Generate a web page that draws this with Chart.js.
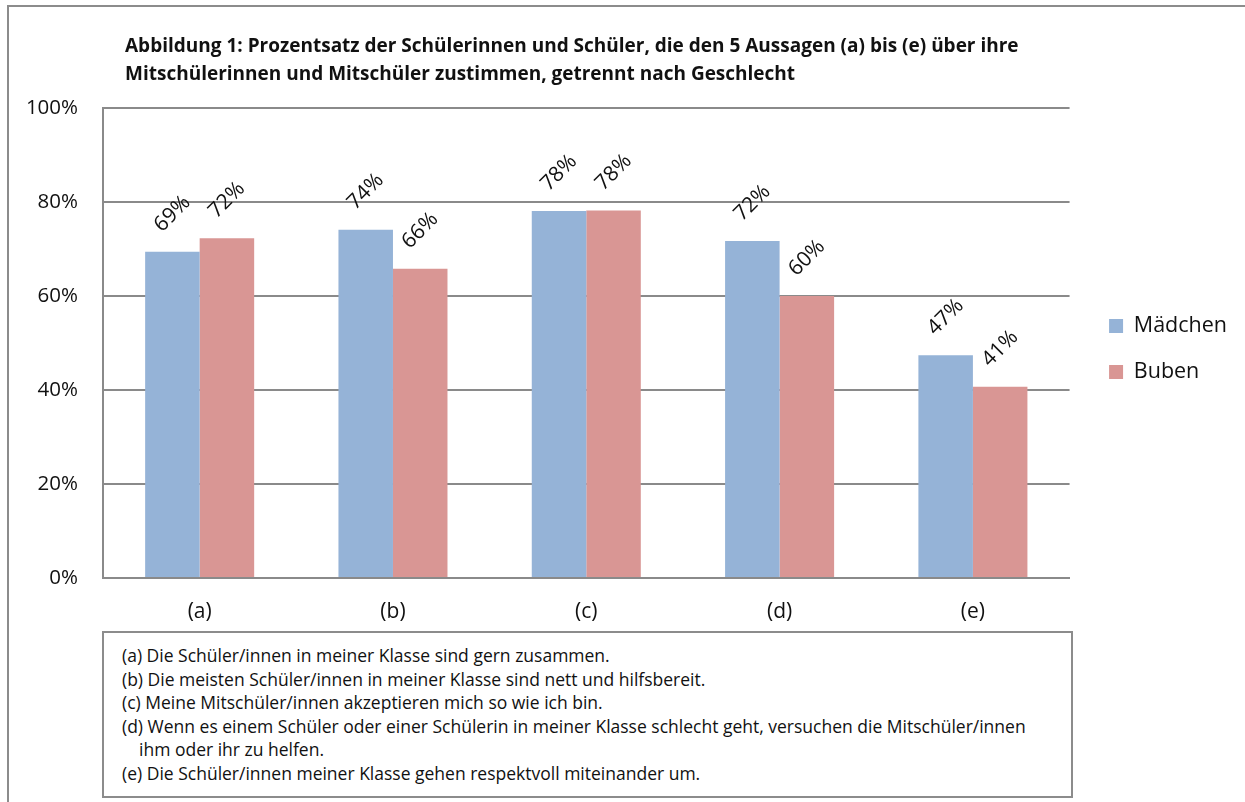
<!DOCTYPE html>
<html>
<head>
<meta charset="utf-8">
<script src="https://cdn.jsdelivr.net/npm/chart.js@4.4.1/dist/chart.umd.min.js"></script>
<style>
  html, body { margin: 0; padding: 0; background: #fff; }
  #wrap { position: relative; width: 1245px; height: 802px; overflow: hidden; font-family: "Open Sans", Lato, sans-serif; }
  #frame { position: absolute; left: 7px; top: 5px; width: 1300px; height: 900px; border-left: 2px solid #8c8c8c; border-top: 2px solid #8c8c8c; }
  #c { position: absolute; left: 0; top: 0; }
  #title { position: absolute; left: 125px; top: 31px; font-weight: bold; font-size: 19px; line-height: 28px; color: #111; white-space: nowrap; }
  #notes { position: absolute; left: 102px; top: 631px; width: 971px; height: 167px; box-sizing: border-box; border: 2px solid #8c8c8c; padding: 11px 0 0 18px; font-size: 17.5px; line-height: 23.6px; color: #111; background: #fff; white-space: nowrap; }
  #notes .ind { padding-left: 17px; }
</style>
</head>
<body>
<div id="wrap">
  <div id="frame"></div>
  <canvas id="c" width="1245" height="802"></canvas>
  <div id="title">Abbildung 1: Prozentsatz der Schülerinnen und Schüler, die den 5 Aussagen (a) bis (e) über ihre<br>Mitschülerinnen und Mitschüler zustimmen, getrennt nach Geschlecht</div>
  <div id="notes">
    <div>(a) Die Schüler/innen in meiner Klasse sind gern zusammen.</div>
    <div>(b) Die meisten Schüler/innen in meiner Klasse sind nett und hilfsbereit.</div>
    <div>(c) Meine Mitschüler/innen akzeptieren mich so wie ich bin.</div>
    <div>(d) Wenn es einem Schüler oder einer Schülerin in meiner Klasse schlecht geht, versuchen die Mitschüler/innen</div>
    <div class="ind">ihm oder ihr zu helfen.</div>
    <div>(e) Die Schüler/innen meiner Klasse gehen respektvoll miteinander um.</div>
  </div>
</div>
<script>
const categories = ['(a)', '(b)', '(c)', '(d)', '(e)'];
const seriesNames = ['Mädchen', 'Buben'];
const maedchen = [69.4, 74.1, 78.1, 71.7, 47.4];
const buben = [72.3, 65.8, 78.2, 60.0, 40.7];
const yTicks = [0, 20, 40, 60, 80, 100];

const FONT = '"Open Sans", Lato, sans-serif';
const GRID = '#8a8a8a';

const valueLabels = {
  id: 'valueLabels',
  afterDatasetsDraw(chart) {
    const ctx = chart.ctx;
    ctx.save();
    ctx.font = '21px ' + FONT;
    ctx.fillStyle = '#111';
    ctx.textAlign = 'center';
    ctx.textBaseline = 'middle';
    chart.data.datasets.forEach((ds, di) => {
      const meta = chart.getDatasetMeta(di);
      meta.data.forEach((el, i) => {
        const txt = Math.round(ds.data[i]) + '%';
        ctx.save();
        ctx.translate(el.x, el.y - 38);
        ctx.rotate(-Math.PI / 4);
        ctx.fillText(txt, 0, 0);
        ctx.restore();
      });
    });
    ctx.restore();
  }
};

new Chart(document.getElementById('c'), {
  type: 'bar',
  data: {
    labels: categories,
    datasets: [
      { label: seriesNames[0], data: maedchen, backgroundColor: '#95B3D7', borderWidth: 0 },
      { label: seriesNames[1], data: buben, backgroundColor: '#D99694', borderWidth: 0 }
    ]
  },
  options: {
    responsive: false,
    animation: false,
    events: [],
    layout: { padding: { left: 8, top: 108, right: 8, bottom: 162 } },
    datasets: { bar: { categoryPercentage: 0.564, barPercentage: 1.0 } },
    scales: {
      x: {
        grid: { display: false, drawTicks: false },
        border: { display: true, color: GRID, width: 2 },
        ticks: { font: { family: FONT, size: 21 }, color: '#111', padding: 21 },
        afterFit(s) { s.height = 62; }
      },
      y: {
        min: 0, max: 100,
        afterBuildTicks(s) { s.ticks = yTicks.map(v => ({ value: v })); },
        grid: { color: GRID, lineWidth: 2, drawTicks: false },
        border: { display: true, color: GRID, width: 2 },
        ticks: { font: { family: FONT, size: 20.5 }, color: '#111', padding: 25, callback: v => v + '%' },
        afterFit(s) { s.width = 95; }
      },
      gap: {
        position: 'right',
        display: true,
        grid: { display: false, drawTicks: false },
        border: { display: false },
        ticks: { display: false },
        afterFit(s) { s.width = 15; }
      }
    },
    plugins: {
      legend: {
        position: 'right',
        align: 'center',
        fullSize: false,
        title: { display: true, text: ' ', font: { size: 10 }, padding: 0 },
        labels: { boxWidth: 14, boxHeight: 14, padding: 24.5, color: '#111', font: { family: FONT, size: 21.5 } }
      },
      title: { display: false },
      tooltip: { enabled: false }
    }
  },
  plugins: [valueLabels]
});
</script>
</body>
</html>
